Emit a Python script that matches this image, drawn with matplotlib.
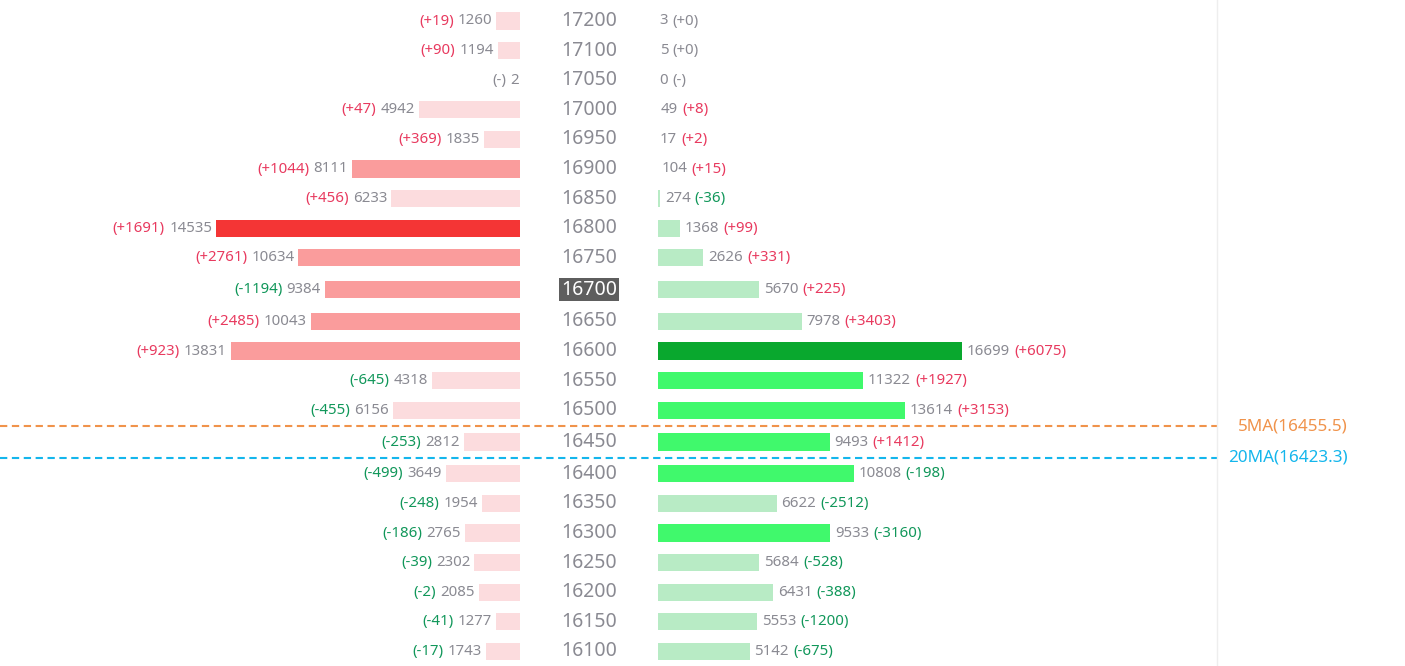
import matplotlib
matplotlib.use("Agg")
import matplotlib.pyplot as plt
import numpy as np

plt.rcParams["font.family"] = ["Noto Sans", "DejaVu Sans"]

# ── Datos ─────────────────────────────────────────────────────────────────────
strikes = [17200, 17100, 17050, 17000, 16950, 16900, 16850, 16800, 16750, 16700, 16650,
           16600, 16550, 16500, 16450, 16400, 16350, 16300, 16250, 16200, 16150, 16100]

call_oi = [1260, 1194, 2, 4942, 1835, 8111, 6233, 14535, 10634, 9384, 10043,
           13831, 4318, 6156, 2812, 3649, 1954, 2765, 2302, 2085, 1277, 1743]
call_chg = [19, 90, None, 47, 369, 1044, 456, 1691, 2761, -1194, 2485,
            923, -645, -455, -253, -499, -248, -186, -39, -2, -41, -17]

put_oi = [3, 5, 0, 49, 17, 104, 274, 1368, 2626, 5670, 7978,
          16699, 11322, 13614, 9493, 10808, 6622, 9533, 5684, 6431, 5553, 5142]
put_chg = [0, 0, None, 8, 2, 15, -36, 99, 331, 225, 3403,
           6075, 1927, 3153, 1412, -198, -2512, -3160, -528, -388, -1200, -675]

atm_strike = 16700
ma_names = ["5MA", "20MA"]
ma_values = [16455.5, 16423.3]

# ── Estilo ────────────────────────────────────────────────────────────────────
W, H = 1405, 666
ROW_PX = 29.6
TOP_PX = 21
GAP = 0.075
BAR_H = 0.58
BAR_MAX_PX = 307
INSET_PX = 3
CALL_RIGHT = 520
PUT_LEFT = 658
SEP_X = 1217

GRAY = "#8A8A92"
RED_TXT = "#E83A5F"
GREEN_TXT = "#11975A"
CALL_COLORS = ("#F43535", "#FA9C9C", "#FCDCDE")
PUT_COLORS = ("#09A82E", "#40F96C", "#B8EBC5")
MA_COLORS = ["#F0934B", "#14B6EC"]


def _bar_colors(values, palette):
    vmax = max(values)
    out = []
    for v in values:
        if v == vmax:
            out.append(palette[0])
        elif v >= 0.5 * vmax:
            out.append(palette[1])
        else:
            out.append(palette[2])
    return out


def _chg_text(c):
    if c is None:
        return "(-)", GRAY
    if c > 0:
        return f"(+{c})", RED_TXT
    if c < 0:
        return f"({c})", GREEN_TXT
    return "(+0)", GRAY


# posiciones de filas (con pequeños huecos alrededor del ATM y de las medias)
n = len(strikes)
extra = np.zeros(n)
atm_idx = strikes.index(atm_strike)
extra[atm_idx] += GAP
extra[atm_idx + 1] += GAP
ma_idx = []
for v in ma_values:
    k = next(i for i, s in enumerate(strikes) if s < v)
    ma_idx.append(k)
    extra[k] += GAP
y_pos = np.arange(n) + np.cumsum(extra)

y_top = -TOP_PX / ROW_PX
y_bot = y_top + H / ROW_PX

fig = plt.figure(figsize=(W / 100, H / 100), dpi=100, facecolor="white")
ax = fig.add_axes([0, 0, 1, 1])
ax_c = fig.add_axes([0, 0, CALL_RIGHT / W, 1])
ax_p = fig.add_axes([PUT_LEFT / W, 0, (SEP_X - PUT_LEFT) / W, 1])

for a in (ax, ax_c, ax_p):
    a.set_ylim(y_bot, y_top)
    a.axis("off")
    a.patch.set_alpha(0)
ax.set_xlim(0, W)

# calls (izquierda, eje invertido)
c_unit = max(call_oi) / BAR_MAX_PX
ax_c.set_xlim(c_unit * (CALL_RIGHT + INSET_PX), c_unit * INSET_PX)
ax_c.barh(y_pos, call_oi, height=BAR_H, color=_bar_colors(call_oi, CALL_COLORS))

# puts (derecha)
p_unit = max(put_oi) / BAR_MAX_PX
ax_p.set_xlim(p_unit * INSET_PX, p_unit * (SEP_X - PUT_LEFT + INSET_PX))
ax_p.barh(y_pos, put_oi, height=BAR_H, color=_bar_colors(put_oi, PUT_COLORS))

FS = 10.8
for y, v, c in zip(y_pos, call_oi, call_chg):
    t = ax_c.annotate(str(v), xy=(v, y), xytext=(-2.8, 0), textcoords="offset points",
                      ha="right", va="center", fontsize=FS, color=GRAY,
                      annotation_clip=False)
    s, col = _chg_text(c)
    ax_c.annotate(s, xy=(0, 0), xycoords=t, xytext=(-3, 0), textcoords="offset points",
                  ha="right", va="bottom", fontsize=FS, color=col)

for y, v, c in zip(y_pos, put_oi, put_chg):
    t = ax_p.annotate(str(v), xy=(v, y), xytext=(3.4, 0), textcoords="offset points",
                      ha="left", va="center", fontsize=FS, color=GRAY,
                      annotation_clip=False)
    s, col = _chg_text(c)
    ax_p.annotate(s, xy=(1, 0), xycoords=t, xytext=(3, 0), textcoords="offset points",
                  ha="left", va="bottom", fontsize=FS, color=col)

# strikes en el centro
for y, s in zip(y_pos, strikes):
    if s == atm_strike:
        ax.text(589, y, str(s), ha="center", va="center", fontsize=14, color="white",
                bbox=dict(boxstyle="square,pad=0.08", facecolor="#5E5E5E", edgecolor="none"))
    else:
        ax.text(589, y, str(s), ha="center", va="center", fontsize=14, color=GRAY)

# medias móviles
for name, v, k, col in zip(ma_names, ma_values, ma_idx, MA_COLORS):
    y = (y_pos[k - 1] + y_pos[k]) / 2
    ax.hlines(y, 0, SEP_X, colors=col, linewidth=1.5, linestyles=(0, (3.5, 2.2)))
    ax.text(1348, y, f"{name}({v})", ha="right", va="center", fontsize=12.3, color=col)

ax.axvline(SEP_X, color="#EEEEEE", linewidth=1)

fig.savefig("out.png", dpi=100, facecolor="white")
plt.close(fig)
